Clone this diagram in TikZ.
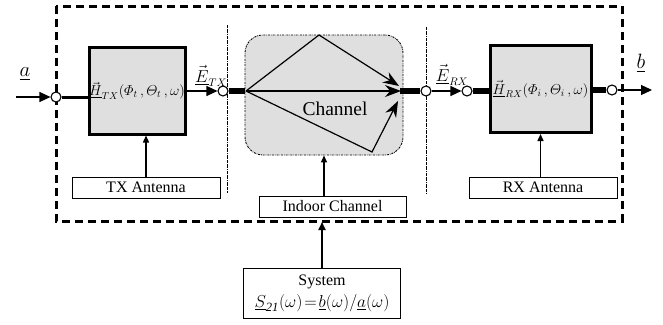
\documentclass[tikz,border=0pt]{standalone}
\usepackage{amsmath}
\usepackage{fontspec}
\setmainfont{Liberation Serif}
\usetikzlibrary{arrows.meta}
\begin{document}
\begin{tikzpicture}[x=1pt,y=-1pt,
  block/.style={draw,line width=3pt,fill=gray!25,inner sep=0pt,font=\fontsize{14.5}{15}\selectfont},
  labelbox/.style={draw,line width=0.9pt,fill=white,inner sep=0pt,font=\fontsize{16}{16}\selectfont},
  port/.style={circle,draw,line width=1.1pt,fill=white,minimum size=10pt,inner sep=0pt},
  thinlink/.style={line width=1.2pt},
  bar/.style={line width=6.5pt},
  tip/.style={-{Triangle[length=11pt,width=10pt]}},
  smalltip/.style={line width=1.4pt,-{Triangle[length=7pt,width=6pt]}},
  ray/.style={line width=1.2pt,-{Stealth[length=16pt,width=12pt]}},
  divider/.style={line width=1pt,dash pattern=on 3pt off 0.8pt on 0.8pt off 0.8pt},
  sig/.style={font=\fontsize{16}{16}\selectfont,inner sep=0pt}]
\useasboundingbox (0,0) rectangle (663,324);

% system boundary
\draw[line width=3pt,dash pattern=on 8pt off 5pt] (56,6) rectangle (622,221);
\coordinate (sysin) at (322,222);

% reference planes
\draw[divider] (227,25) -- (227,193);
\draw[divider] (426,27) -- (426,194);

% indoor channel with its propagation paths
\node[draw,fill=gray!25,rounded corners=18pt,minimum width=158pt,minimum height=120pt,
      line width=0.9pt,dash pattern=on 2pt off 1pt on 0.6pt off 1pt] (ch) at (324,95) {};
\node[font=\fontsize{19.5}{19.5}\selectfont,inner sep=0pt] (chtext) at (335,109) {Channel};
\coordinate (o) at (246,91);
\coordinate (top) at (319,35);
\coordinate (bot) at (372,152);
\coordinate (t1) at (399,86);
\coordinate (t2) at (401,91);
\coordinate (t3) at (398,101);
\draw[ray] (o) -- (top) -- (t1);
\draw[ray] (o) -- (t2);
\draw[ray] (o) -- (bot) -- (t3);

% antenna blocks
\node[block,minimum width=96pt,minimum height=87pt] (tx) at (137,90.5)
  {$\vec{\underline{H}}_{TX}(\varPhi_t\,,\varTheta_t\,,\omega)$};
\node[block,minimum width=101pt,minimum height=87pt] (rx) at (540.5,89)
  {$\vec{\underline{H}}_{RX}(\varPhi_i\,,\varTheta_i\,,\omega)$};

% descriptive boxes
\node[labelbox,minimum width=148pt,minimum height=21pt] (txant) at (146,187.5) {TX Antenna};
\node[labelbox,minimum width=148pt,minimum height=21pt] (rxant) at (543,187.5) {RX Antenna};
\node[labelbox,minimum width=147pt,minimum height=21pt] (indoor) at (332.5,206.5) {Indoor Channel};
\node[labelbox,minimum width=157pt,minimum height=50pt,align=center,
      font=\fontsize{16}{22}\selectfont] (sys) at (322,293)
  {System\\ \fontsize{18}{22}\selectfont$\underline{S}_{\mathit{21}}(\omega)\!=\!\underline{b}(\omega)/\underline{a}(\omega)$};

% ports
\coordinate (ain) at (16,97);
\coordinate (bout) at (652,90);
\node[port] (p1) at (56,97) {};
\node[port] (p2) at (223,91) {};
\node[port] (p3) at (426,91) {};
\node[port] (p4) at (467,91) {};
\node[port] (p5) at (612,90) {};

% signal path
\draw[thinlink,tip] (ain) -- (p1.west);
\draw[line width=3pt] (p1.east) -- (p1 -| tx.west);
\draw[thinlink,tip] (tx.east |- p2) -- (p2.west);
\draw[bar] (p2.east) -- (p2 -| ch.west);
\draw[bar] (p3 -| ch.east) ++(-3,0) -- (p3.west);
\draw[thinlink,tip] (p3.east) -- (p4.west);
\draw[bar] (p4.east) -- (p4 -| rx.west);
\draw[bar] (rx.east |- p5) -- (p5.west);
\draw[thinlink,tip] (p5.east) -- (bout);

% control inputs
\draw[smalltip] (txant.north) -- (txant.north |- tx.south);
\draw[smalltip] (rxant.north -| rx.south) -- (rx.south);
\draw[smalltip] (ch.south |- indoor.north) -- (ch.south);
\draw[line width=1.8pt,-{Triangle[length=8pt,width=7pt]}] (sys.north) -- (sysin);

% wave quantities
\node[font=\fontsize{22}{22}\selectfont,inner sep=0pt] (alab) at (25,74) {$\underline{a}$};
\node[font=\fontsize{22}{22}\selectfont,inner sep=0pt] (blab) at (641,63) {$\underline{b}$};
\node[sig] (etx) at (211,76) {$\vec{\underline{E}}_{TX}$};
\node[sig] (erx) at (452,75) {$\vec{\underline{E}}_{RX}$};
\end{tikzpicture}
\end{document}
